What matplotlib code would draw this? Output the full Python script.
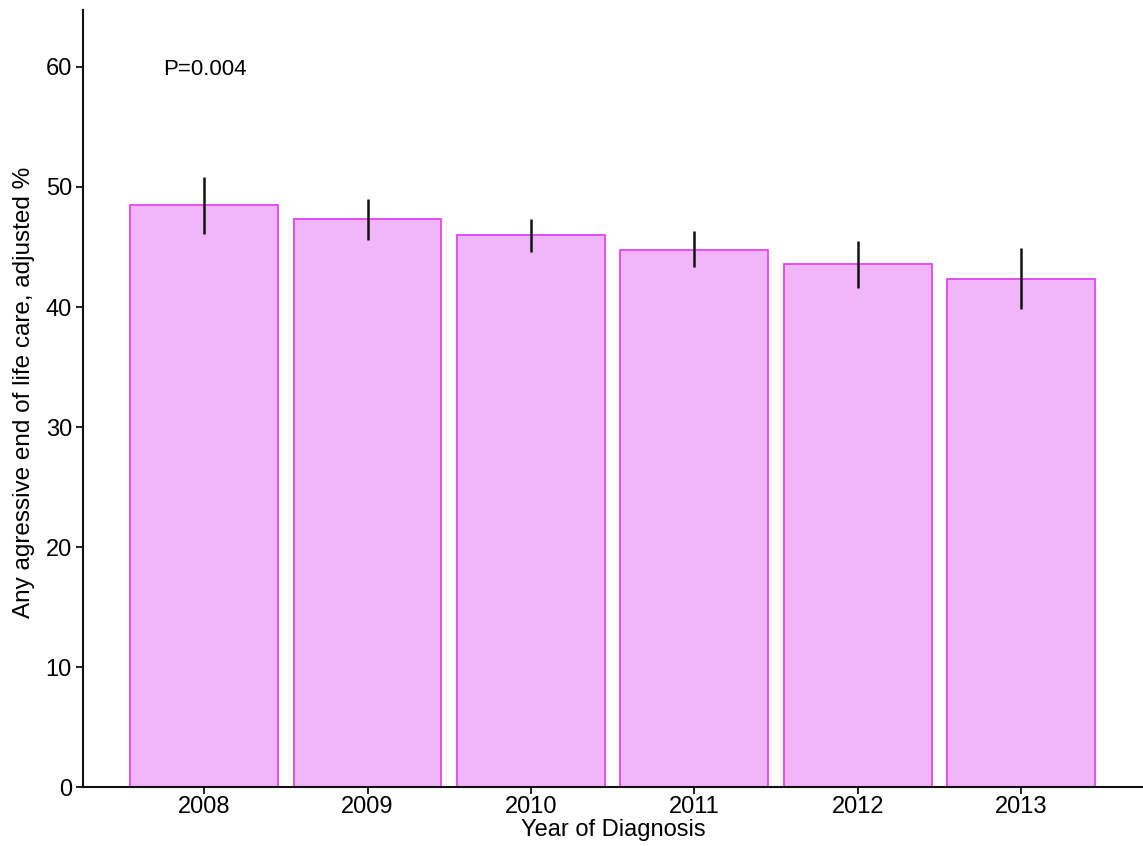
import matplotlib
matplotlib.use("Agg")
import matplotlib.pyplot as plt
import numpy as np

plt.rcParams['font.family'] = ['Liberation Sans', 'DejaVu Sans']

# values
years = ['2008', '2009', '2010', '2011', '2012', '2013']
adjusted_pct = [48.5, 47.3, 46.0, 44.75, 43.55, 42.35]
ci_low = [46.1, 45.6, 44.6, 43.3, 41.6, 39.8]
ci_high = [50.8, 49.0, 47.35, 46.3, 45.5, 44.95]
p_text = 'P=0.004'

x = np.arange(len(years))
vals = np.array(adjusted_pct)
yerr = [vals - np.array(ci_low), np.array(ci_high) - vals]

fig = plt.figure(figsize=(11.43, 8.46), dpi=100)
ax = fig.add_axes([0.0726, 0.0697, 0.9274, 0.9185])

ax.bar(x, vals, width=0.905, color='#F1B5F9', edgecolor='#E444F2', linewidth=1.3)
ax.errorbar(x, vals, yerr=yerr, fmt='none', ecolor='#111111', elinewidth=1.8, capsize=0)

ax.set_xlim(-0.741, 5.745)
ax.set_ylim(0, 64.75)
ax.set_yticks([0, 10, 20, 30, 40, 50, 60])
ax.set_xticks(x)
ax.set_xticklabels(years)

for side in ['top', 'right']:
    ax.spines[side].set_visible(False)
for side in ['left', 'bottom']:
    ax.spines[side].set_linewidth(1.5)
    ax.spines[side].set_color('#111111')

ax.tick_params(axis='both', labelsize=17, width=1.3, length=5, color='#111111')
ax.tick_params(axis='x', pad=1.5)
ax.tick_params(axis='y', pad=3)

ax.set_xlabel('Year of Diagnosis', fontsize=17, labelpad=1)
ax.set_ylabel('Any agressive end of life care, adjusted %', fontsize=17.5)
ax.yaxis.set_label_coords(-0.045, 0.508)

ax.text(-0.253, 59.75, p_text, fontsize=16, ha='left', va='center')

fig.savefig('out.png', dpi=100)
